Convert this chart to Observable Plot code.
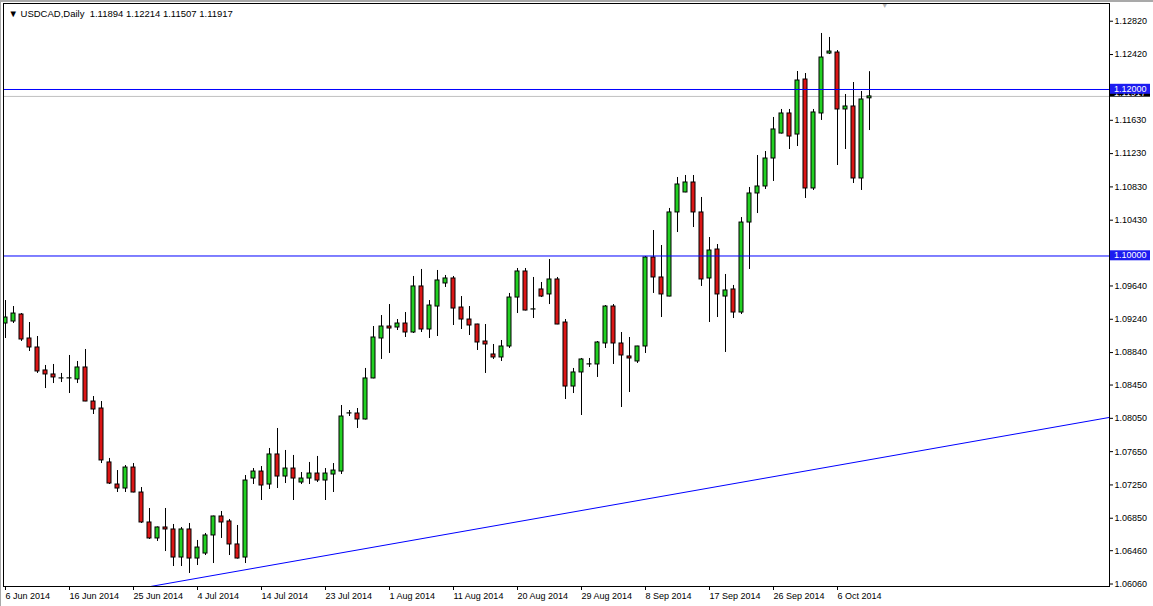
<!DOCTYPE html>
<html><head><meta charset="utf-8">
<script src="https://cdn.jsdelivr.net/npm/d3@7"></script>
<script src="https://cdn.jsdelivr.net/npm/@observablehq/plot@0.6"></script>
<style>
html,body{margin:0;padding:0;background:#fff;}
#wrap{position:relative;width:1153px;height:606px;overflow:hidden;background:#fff;}
.edge{position:absolute;background:#a9a9a9;pointer-events:none;}
.mt [aria-label^="x-axis"] text{text-anchor:start;}
</style></head><body>
<div id="wrap"><div class="edge" style="left:0;top:0;width:1153px;height:2px"></div><div class="edge" style="left:0;top:0;width:1px;height:606px"></div></div>
<script>
// ---- data (USDCAD daily, bar 0 = 6 Jun 2014, bar 108 = 10 Oct 2014) ----
const symbol = "USDCAD";
const timeframe = "Daily";
const open = [1.09189,1.09213,1.09297,1.09009,1.08901,1.08625,1.08577,1.08529,1.08529,1.08517,
1.08661,1.08252,1.08168,1.07520,1.07255,1.07207,1.07459,1.07159,1.06799,1.06607,
1.06739,1.06715,1.06378,1.06715,1.06366,1.06426,1.06643,1.06871,1.06811,1.06535,
1.06378,1.07327,1.07411,1.07255,1.07616,1.07351,1.07447,1.07279,1.07327,1.07387,
1.07303,1.07375,1.07411,1.08108,1.08108,1.08036,1.08529,1.09009,1.09153,1.09141,
1.09189,1.09081,1.09634,1.09117,1.09393,1.09670,1.09730,1.09381,1.09237,1.09177,
1.08973,1.08817,1.08781,1.08913,1.09501,1.09814,1.09357,1.09598,1.09538,1.09718,
1.09201,1.08432,1.08601,1.08697,1.08697,1.08949,1.09393,1.08949,1.08793,1.08733,
1.08913,1.09982,1.09742,1.09513,1.10523,1.10763,1.10883,1.10523,1.09730,1.10078,
1.09513,1.09598,1.09321,1.10402,1.10751,1.10835,1.11171,1.11471,1.11712,1.11459,
1.12120,1.10811,1.11712,1.12432,1.12444,1.11760,1.11796,1.10931,1.11894];
const high = [1.09465,1.09393,1.09309,1.09201,1.09033,1.08685,1.08697,1.08589,1.08805,1.08733,
1.08877,1.08312,1.08252,1.07568,1.07423,1.07483,1.07507,1.07219,1.06967,1.06745,
1.06967,1.06775,1.06739,1.06787,1.06583,1.06667,1.06875,1.06931,1.06835,1.06763,
1.07363,1.07447,1.07471,1.07688,1.07928,1.07664,1.07604,1.07399,1.07520,1.07592,
1.07447,1.07507,1.08204,1.08144,1.08168,1.08649,1.09153,1.09285,1.09417,1.09237,
1.09321,1.09754,1.09838,1.09465,1.09826,1.09766,1.09754,1.09513,1.09393,1.09180,
1.09177,1.08937,1.08985,1.09550,1.09850,1.09850,1.09742,1.09682,1.09958,1.09742,
1.09237,1.08649,1.08769,1.08769,1.08973,1.09405,1.09417,1.09081,1.09021,1.08915,
1.09994,1.10306,1.10126,1.10571,1.10943,1.10967,1.10967,1.10703,1.10222,1.10138,
1.09778,1.09646,1.10462,1.10823,1.11207,1.11255,1.11664,1.11760,1.11760,1.12216,
1.12192,1.11760,1.12673,1.12625,1.12468,1.11940,1.12084,1.11976,1.12214];
const low = [1.09009,1.09189,1.08973,1.08853,1.08589,1.08408,1.08468,1.08480,1.08348,1.08468,
1.08250,1.08096,1.07507,1.07255,1.07159,1.07159,1.07155,1.06787,1.06595,1.06571,
1.06450,1.06270,1.06270,1.06186,1.06282,1.06402,1.06306,1.06607,1.06402,1.06360,
1.06306,1.07255,1.07063,1.07195,1.07207,1.07267,1.07063,1.07255,1.07255,1.07279,
1.07063,1.07159,1.07375,1.08072,1.07928,1.08030,1.08525,1.08757,1.08829,1.09105,
1.09021,1.09069,1.09081,1.09009,1.09033,1.09622,1.09165,1.09117,1.09045,1.08865,
1.08589,1.08757,1.08733,1.08889,1.09309,1.09340,1.09249,1.09501,1.09417,1.09175,
1.08276,1.08348,1.08084,1.08661,1.08541,1.08889,1.08697,1.08180,1.08360,1.08709,
1.08829,1.09550,1.09261,1.09510,1.10282,1.10760,1.10342,1.09634,1.09201,1.09261,
1.08841,1.09249,1.09297,1.09838,1.10510,1.10799,1.10895,1.11465,1.11279,1.11315,
1.10691,1.10787,1.11628,1.12420,1.11087,1.11279,1.10871,1.10787,1.11507];
const close = [1.09261,1.09309,1.08997,1.08901,1.08613,1.08577,1.08541,1.08530,1.08531,1.08661,
1.08252,1.08156,1.07544,1.07267,1.07207,1.07459,1.07159,1.06799,1.06607,1.06739,
1.06715,1.06378,1.06715,1.06366,1.06498,1.06643,1.06871,1.06799,1.06535,1.06366,
1.07303,1.07411,1.07243,1.07616,1.07351,1.07447,1.07327,1.07327,1.07387,1.07303,
1.07387,1.07423,1.08072,1.08110,1.08036,1.08529,1.09021,1.09153,1.09129,1.09189,
1.09081,1.09634,1.09117,1.09405,1.09706,1.09730,1.09369,1.09237,1.09165,1.08961,
1.08937,1.08781,1.08913,1.09501,1.09814,1.09345,1.09359,1.09513,1.09718,1.09177,
1.08432,1.08601,1.08757,1.08699,1.08961,1.09393,1.08949,1.08805,1.08769,1.08913,
1.09982,1.09742,1.09538,1.10523,1.10859,1.10883,1.10523,1.09718,1.10066,1.09538,
1.09586,1.09321,1.10402,1.10751,1.10835,1.11171,1.11520,1.11712,1.11435,1.12108,
1.10811,1.11724,1.12384,1.12456,1.11760,1.11796,1.10931,1.11880,1.11917];

const dateTickBars = [0,8,16,24,32,40,48,56,64,72,80,88,96,104];
const dateLabels = ["6 Jun 2014","16 Jun 2014","25 Jun 2014","4 Jul 2014","14 Jul 2014","23 Jul 2014",
"1 Aug 2014","11 Aug 2014","20 Aug 2014","29 Aug 2014","8 Sep 2014","17 Sep 2014","26 Sep 2014","6 Oct 2014"];
const priceTicks = [1.12820,1.12420,1.11630,1.11230,1.10830,1.10430,1.09640,1.09240,1.08840,
1.08450,1.08050,1.07650,1.07250,1.06850,1.06460,1.06060];
const levels = [1.12000, 1.10000];          // horizontal lines
const trendBars = [18, 138];                // trend line anchors (bar index)
const trendPrices = [1.06028, 1.08061];     // trend line anchors (price)
const shiftBar = 109.9;                     // chart-shift marker position
const last = open.length - 1;
const bid = close[last];

const candles = open.map((o, i) => ({i, o, h: high[i], l: low[i], c: close[i]}));
const trend = trendBars.map((b, k) => ({b, p: trendPrices[k]}));
const titleText = `\u25BC ${symbol},${timeframe}  ${open[last].toFixed(5)} ${high[last].toFixed(5)} ${low[last].toFixed(5)} ${close[last].toFixed(5)}`;

const BLUE_LINE = "#0000ff", BLUE_BOX = "#1c1cf0", GREEN = "#22d022", RED = "#dc1616";

function priceBoxes(index, scales, values, dims) {
  const y = scales.y;
  const x0 = dims.width - dims.marginRight + 1;
  const w = 40;
  const g = d3.create("svg:g").attr("text-anchor", "start");
  const yb = y(bid);
  g.append("rect").attr("x", x0).attr("y", yb - 10).attr("width", w).attr("height", 10.8).attr("fill", "#000");
  g.append("text").attr("x", x0 + 4).attr("y", yb - 3).attr("dy", "0.32em").attr("fill", "#fff").text(bid.toFixed(5));
  for (const v of levels) {
    const yy = y(v);
    g.append("rect").attr("x", x0).attr("y", yy - 5.2).attr("width", w).attr("height", 10).attr("fill", BLUE_BOX);
    g.append("text").attr("x", x0 + 4).attr("y", yy).attr("dy", "0.32em").attr("fill", "#fff").text(v.toFixed(5));
  }
  return g.node();
}

const plot = Plot.plot({
  width: 1153, height: 606,
  marginTop: 3, marginLeft: 3, marginRight: 44, marginBottom: 20,
  className: "mt",
  style: {fontFamily: "'Liberation Sans', Arial, sans-serif", fontSize: "9px", background: "#fff", color: "#000", overflow: "visible"},
  x: {type: "linear", domain: [-0.25, 138], axis: "bottom", ticks: dateTickBars,
      tickFormat: i => dateLabels[dateTickBars.indexOf(i)], tickSize: 4, tickPadding: 2, label: null},
  y: {domain: [1.06030, 1.13033], axis: "right", ticks: priceTicks,
      tickFormat: v => v.toFixed(5), tickSize: 3, tickPadding: 2, label: null},
  marks: [
    Plot.ruleY([bid], {stroke: "#c0c0c0"}),
    Plot.ruleX(candles, {x: "i", y1: "l", y2: "h", stroke: "#000", clip: true}),
    Plot.rect(candles, {x1: d => d.i - 0.25, x2: d => d.i + 0.25, y1: "o", y2: "c",
      fill: d => d.c > d.o ? GREEN : RED, stroke: "#000", strokeWidth: 1, clip: true}),
    Plot.ruleY(levels, {stroke: BLUE_LINE, strokeWidth: 1}),
    Plot.line(trend, {x: "b", y: "p", stroke: BLUE_LINE, strokeWidth: 1, clip: true}),
    Plot.frame({stroke: "#000"}),
    Plot.text([titleText], {frameAnchor: "top-left", dx: 5, dy: 10, lineAnchor: "middle", textAnchor: "start", fontSize: 9.5, fill: "#000"}),
    Plot.text([shiftBar], {x: d => d, text: () => "\u25BC", frameAnchor: "top", lineAnchor: "top", dy: 0, fill: "#b4b4b4", fontSize: 7}),
    priceBoxes
  ]
});
document.getElementById("wrap").prepend(plot);
plot.style.position = "absolute";
plot.style.left = "0";
plot.style.top = "0";
</script>
</body></html>
